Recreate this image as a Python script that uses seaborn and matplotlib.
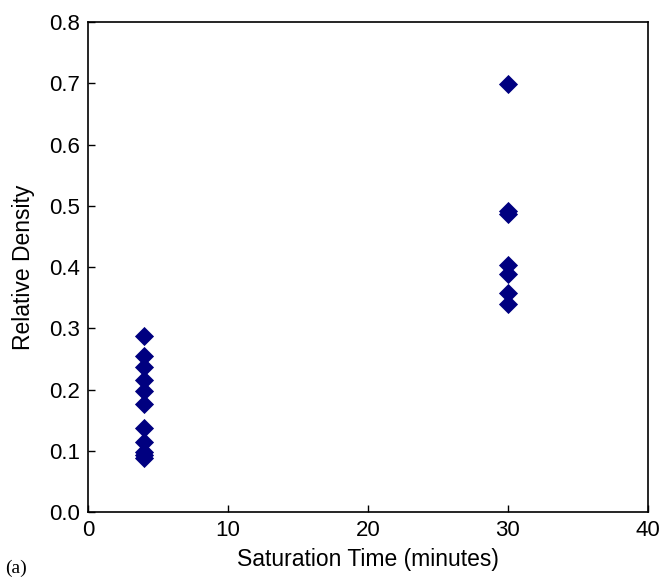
import matplotlib
matplotlib.use("Agg")
import matplotlib.pyplot as plt
import seaborn as sns
import pandas as pd

sns.set_theme(style="white")
plt.rcParams['font.family'] = ['Liberation Sans', 'DejaVu Sans']

time_short = [4] * 11
density_short = [0.287, 0.255, 0.237, 0.215, 0.197, 0.177, 0.138, 0.115, 0.098, 0.093, 0.088]
time_long = [30] * 7
density_long = [0.698, 0.492, 0.486, 0.404, 0.388, 0.357, 0.340]

df = pd.DataFrame({
    "time": time_short + time_long,
    "density": density_short + density_long,
})

fig = plt.figure(figsize=(6.67, 5.78), dpi=100)
ax = fig.add_axes([0.132, 0.114, 0.839, 0.848])
sns.scatterplot(data=df, x="time", y="density", marker="D", s=95,
                color="#000080", edgecolor="#000080", linewidth=0, ax=ax)
ax.set_xlim(0, 40)
ax.set_ylim(0, 0.8)
ax.set_xticks([0, 10, 20, 30, 40])
ax.set_yticks([0.0, 0.1, 0.2, 0.3, 0.4, 0.5, 0.6, 0.7, 0.8])
ax.set_yticklabels([f"{v:.1f}" for v in ax.get_yticks()])
ax.tick_params(direction="in", length=5, width=1, labelsize=16, colors="black",
               bottom=True, left=True, top=False, right=False, pad=6)
for sp in ax.spines.values():
    sp.set_color("black")
    sp.set_linewidth(1.2)
ax.set_xlabel("Saturation Time (minutes)", fontsize=16.5, color="black", labelpad=5)
ax.set_ylabel("Relative Density", fontsize=16.5, color="black", labelpad=10)
fig.text(0.008, 0.008, "(a)", fontsize=14, family=["Liberation Serif"], color="black")
fig.savefig("out.png", dpi=100)
